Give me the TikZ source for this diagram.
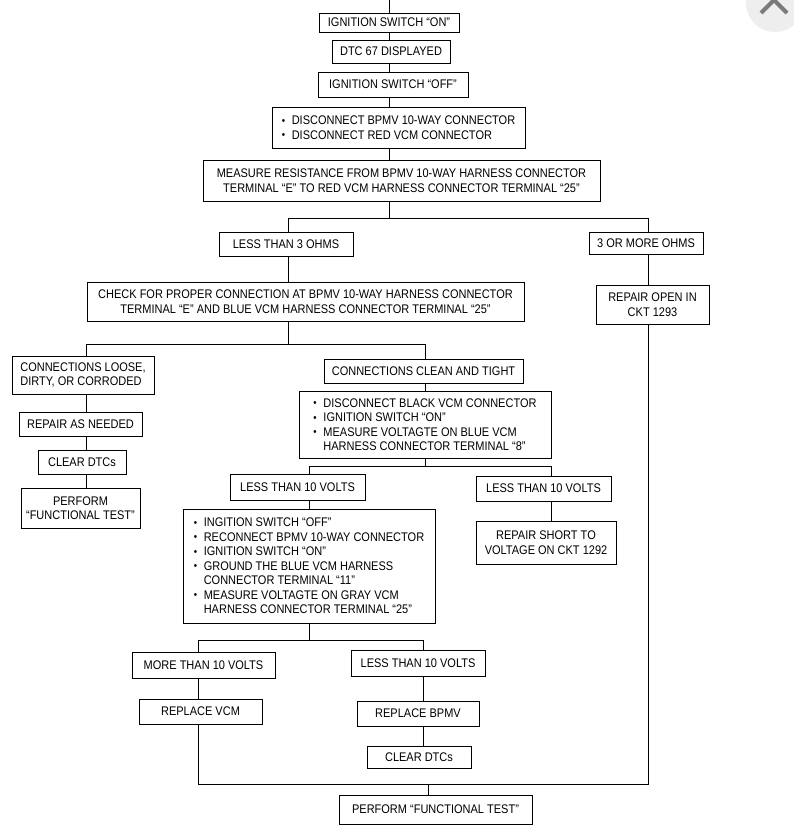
\documentclass[tikz,border=0pt]{standalone}
\usepackage{fontspec}
\setmainfont{Liberation Sans}[FakeStretch=0.88]
\newcommand{\fs}{\fontsize{12.5}{14.5}\selectfont}
\newcommand{\bl}{\makebox[10pt][l]{\raisebox{0.5pt}{\scalebox{0.85}{\textbullet}}}}
\newcommand{\bi}{\hspace*{10pt}}
\definecolor{iconbg}{HTML}{EEEEEE}
\definecolor{iconfg}{HTML}{7A7A7A}
\begin{document}
\begin{tikzpicture}[x=1pt,y=-1pt,
  box/.style={draw, line width=0.8pt, inner sep=0pt, font=\fs, align=center},
  lbox/.style={box, align=left},
  conn/.style={line width=0.8pt, line cap=rect, line join=miter}]
\useasboundingbox (0,0) rectangle (794,837);
\fill[white] (0,0) rectangle (794,837);
% close icon
\begin{scope}
\clip (0,0) rectangle (794,837);
\fill[iconbg] (775,3) circle (29);
\draw[iconfg, line width=4pt] (761,-13) -- (787,13) (787,-13) -- (761,13);
\end{scope}
% nodes
\node[box, minimum width=140, minimum height=19] (on) at (389,22.5) {IGNITION SWITCH “ON”};
\node[box, minimum width=118, minimum height=23] (dtc) at (391,51.5) {DTC 67 DISPLAYED};
\node[box, minimum width=150, minimum height=25] (off) at (393,84.5) {IGNITION SWITCH “OFF”};
\node[lbox, minimum width=253, minimum height=41] (disc) at (398.5,127.5) {\bl DISCONNECT BPMV 10-WAY CONNECTOR\\ \bl DISCONNECT RED VCM CONNECTOR};
\node[box, minimum width=397, minimum height=41] (meas) at (401.5,180.5) {MEASURE RESISTANCE FROM BPMV 10-WAY HARNESS CONNECTOR\\ TERMINAL “E” TO RED VCM HARNESS CONNECTOR TERMINAL “25”};
\node[box, minimum width=134, minimum height=24] (less3) at (286,244) {LESS THAN 3 OHMS};
\node[box, minimum width=114, minimum height=22] (more3) at (646,243) {3 OR MORE OHMS};
\node[box, minimum width=437, minimum height=39] (check) at (305.5,301.5) {CHECK FOR PROPER CONNECTION AT BPMV 10-WAY HARNESS CONNECTOR\\ TERMINAL “E” AND BLUE VCM HARNESS CONNECTOR TERMINAL “25”};
\node[box, minimum width=113, minimum height=39] (open) at (652.5,304.5) {REPAIR OPEN IN\\ CKT 1293};
\node[lbox, minimum width=142, minimum height=38] (loose) at (83,375) {CONNECTIONS LOOSE,\\ DIRTY, OR CORRODED};
\node[box, minimum width=199, minimum height=24] (clean) at (423.5,371) {CONNECTIONS CLEAN AND TIGHT};
\node[lbox, minimum width=252, minimum height=67] (black) at (425,424.5) {\bl DISCONNECT BLACK VCM CONNECTOR\\ \bl IGNITION SWITCH “ON”\\ \bl MEASURE VOLTAGTE ON BLUE VCM\\ \bi HARNESS CONNECTOR TERMINAL “8”};
\node[box, minimum width=123, minimum height=24] (repair) at (80.5,424) {REPAIR AS NEEDED};
\node[box, minimum width=88, minimum height=24] (clearA) at (82,462) {CLEAR DTCs};
\node[box, minimum width=119, minimum height=40] (perfA) at (80.5,508) {PERFORM\\ “FUNCTIONAL TEST”};
\node[box, minimum width=135, minimum height=26] (ltA) at (297.5,487) {LESS THAN 10 VOLTS};
\node[box, minimum width=135, minimum height=25] (ltB) at (543.5,488.5) {LESS THAN 10 VOLTS};
\node[lbox, minimum width=252, minimum height=114] (ingit) at (309,566) {\bl INGITION SWITCH “OFF”\\ \bl RECONNECT BPMV 10-WAY CONNECTOR\\ \bl IGNITION SWITCH “ON”\\ \bl GROUND THE BLUE VCM HARNESS\\ \bi CONNECTOR TERMINAL “11”\\ \bl MEASURE VOLTAGTE ON GRAY VCM\\ \bi HARNESS CONNECTOR TERMINAL “25”};
\node[box, minimum width=140, minimum height=43] (short) at (546,542.5) {REPAIR SHORT TO\\ VOLTAGE ON CKT 1292};
\node[box, minimum width=143, minimum height=26] (more10) at (203.5,665) {MORE THAN 10 VOLTS};
\node[box, minimum width=134, minimum height=26] (ltC) at (418,663) {LESS THAN 10 VOLTS};
\node[box, minimum width=123, minimum height=25] (rvcm) at (200.5,711.5) {REPLACE VCM};
\node[box, minimum width=122, minimum height=25] (rbpmv) at (418,713.5) {REPLACE BPMV};
\node[box, minimum width=104, minimum height=22] (clearB) at (419,757) {CLEAR DTCs};
\node[box, minimum width=193, minimum height=29] (perfB) at (435.5,809.5) {PERFORM “FUNCTIONAL TEST”};
% junction coordinates
\coordinate (tx) at (389,0);
\coordinate (j1) at (389,218);
\coordinate (c1L) at (288,218);
\coordinate (c1R) at (648,218);
\coordinate (j2) at (288,344);
\coordinate (c2L) at (86,344);
\coordinate (c2R) at (425,344);
\coordinate (j3) at (425,466);
\coordinate (c3L) at (309,466);
\coordinate (c3R) at (551,466);
\coordinate (j4) at (309,640);
\coordinate (c4L) at (198,640);
\coordinate (c4R) at (423,640);
\coordinate (bL) at (198,784);
\coordinate (bR) at (648,784);
\coordinate (j5) at (428,784);
% connectors
\draw[conn] (tx) -- (on.north -| tx);
\draw[conn] (on.south -| tx) -- (dtc.north -| tx);
\draw[conn] (dtc.south -| tx) -- (off.north -| tx);
\draw[conn] (off.south -| tx) -- (disc.north -| tx);
\draw[conn] (disc.south -| tx) -- (meas.north -| tx);
\draw[conn] (meas.south -| j1) -- (j1);
\draw[conn] (less3.north -| c1L) -- (c1L) -- (c1R) -- (more3.north -| c1R);
\draw[conn] (less3.south -| c1L) -- (check.north -| c1L);
\draw[conn] (more3.south -| c1R) -- (open.north -| c1R);
\draw[conn] (open.south -| bR) -- (bR) -- (bL) -- (rvcm.south -| bL);
\draw[conn] (check.south -| j2) -- (j2);
\draw[conn] (loose.north -| c2L) -- (c2L) -- (c2R) -- (clean.north -| c2R);
\draw[conn] (loose.south -| c2L) -- (repair.north -| c2L);
\draw[conn] (repair.south -| c2L) -- (clearA.north -| c2L);
\draw[conn] (clearA.south -| c2L) -- (perfA.north -| c2L);
\draw[conn] (clean.south -| c2R) -- (black.north -| c2R);
\draw[conn] (black.south -| j3) -- (j3);
\draw[conn] (ltA.north -| c3L) -- (c3L) -- (c3R) -- (ltB.north -| c3R);
\draw[conn] (ltA.south -| c3L) -- (ingit.north -| c3L);
\draw[conn] (ltB.south -| c3R) -- (short.north -| c3R);
\draw[conn] (ingit.south -| j4) -- (j4);
\draw[conn] (more10.north -| c4L) -- (c4L) -- (c4R) -- (ltC.north -| c4R);
\draw[conn] (more10.south -| c4L) -- (rvcm.north -| c4L);
\draw[conn] (ltC.south -| c4R) -- (rbpmv.north -| c4R);
\draw[conn] (rbpmv.south -| c4R) -- (clearB.north -| c4R);
\draw[conn] (j5) -- (perfB.north -| j5);
\end{tikzpicture}
\end{document}
